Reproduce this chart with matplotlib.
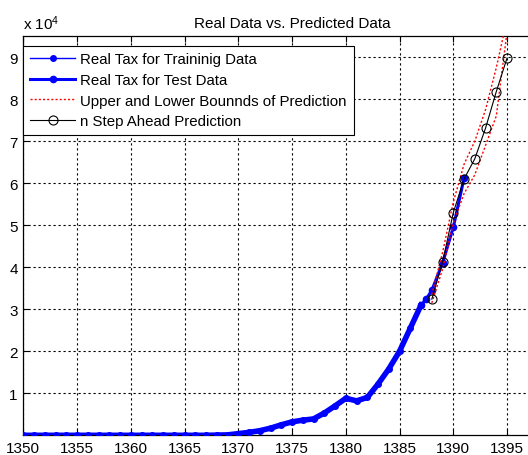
import numpy as np
import matplotlib
matplotlib.use("Agg")
import matplotlib.pyplot as plt

plt.rcParams['font.family'] = ['Liberation Sans', 'DejaVu Sans']
plt.rcParams['mathtext.default'] = 'regular'

# real tax, training part (x 1e4)
train_years = list(range(1350, 1388))
train_tax = [0.0, 0.0, 0.0, 0.0, 0.0, 0.0, 0.0, 0.0, 0.0, 0.0,
             0.0, 0.0, 0.0, 0.0, 0.0, 0.0, 0.0, 0.0, 0.005, 0.01,
             0.04, 0.07, 0.11, 0.17, 0.25, 0.32, 0.36, 0.39, 0.53, 0.7,
             0.88, 0.82, 0.9, 1.22, 1.58, 2.0, 2.55, 3.1]

# real tax, test part
test_years = [1387, 1387.5, 1388, 1389, 1390, 1391]
test_tax = [3.1, 3.25, 3.45, 4.1, 4.95, 6.12]

# n step ahead prediction and its bounds
pred_years = [1388, 1389, 1390, 1391, 1392, 1393, 1394, 1395]
pred_tax = [3.24, 4.12, 5.30, 6.10, 6.58, 7.31, 8.18, 8.98]
upper_tax = [3.35, 4.35, 5.55, 6.45, 7.0, 7.75, 8.75, 9.9]
lower_tax = [3.15, 3.95, 5.05, 5.75, 6.2, 6.9, 7.6, 9.6]

scale = 1e4

fig = plt.figure(figsize=(5.28, 4.56), dpi=100)
W, H = 528, 456
x0, y0 = 23.3, 436.3
ax = fig.add_axes([x0 / W, (H - y0) / H, 50 * 10.75 / W, (y0 - 36.7) / H])

ax.plot(train_years, np.array(train_tax) * scale, '.-', color='b', lw=4,
        ms=8, label='Real Tax for Traininig Data', zorder=3)
ax.plot(test_years, np.array(test_tax) * scale, '.-', color='b', lw=2.2,
        ms=9, label='Real Tax for Test Data', zorder=3)
ax.plot(pred_years, np.array(upper_tax) * scale, color='r', lw=1,
        linestyle=(0, (1.5, 1.5)),
        label='Upper and Lower Bounnds of Prediction', zorder=4)
ax.plot(pred_years, np.array(lower_tax) * scale, color='r', lw=1,
        linestyle=(0, (1.5, 1.5)), zorder=4)
ax.plot(pred_years, np.array(pred_tax) * scale, '-o', color='k', lw=0.8,
        ms=6.5, mfc='none', mew=0.8, label='n Step Ahead Prediction', zorder=5)

ax.set_xlim(1350, 1400)
ax.set_ylim(0, 9.51e4)
ax.set_xticks(range(1350, 1396, 5))
ax.set_yticks(np.arange(1, 10) * scale)
ax.set_yticklabels([str(i) for i in range(1, 10)])
ax.tick_params(direction='in', top=True, right=False, labelsize=11, length=4,
               width=0.8, colors='k', pad=4)
ax.grid(True, color='k', linestyle=(0, (2, 2.5)), linewidth=0.8)
for s in ax.spines.values():
    s.set_linewidth(0.9)

ax.set_title('Real Data vs. Predicted Data', fontsize=11, pad=6)
fig.text(x0 / W, (H - 33) / H, r'x 10$^4$', fontsize=11, ha='left', va='bottom')

leg = ax.legend(loc='upper left', bbox_to_anchor=(0, (y0 - 46.7) / (y0 - 36.7)),
                borderaxespad=0, fancybox=False, edgecolor='k', fontsize=10.8,
                handlelength=3.0, handletextpad=0.35, labelspacing=0.44,
                borderpad=0.45, framealpha=1)
leg.get_frame().set_linewidth(0.8)
leg.legend_handles[0].set_linewidth(1)

fig.savefig('out.png', dpi=100)
